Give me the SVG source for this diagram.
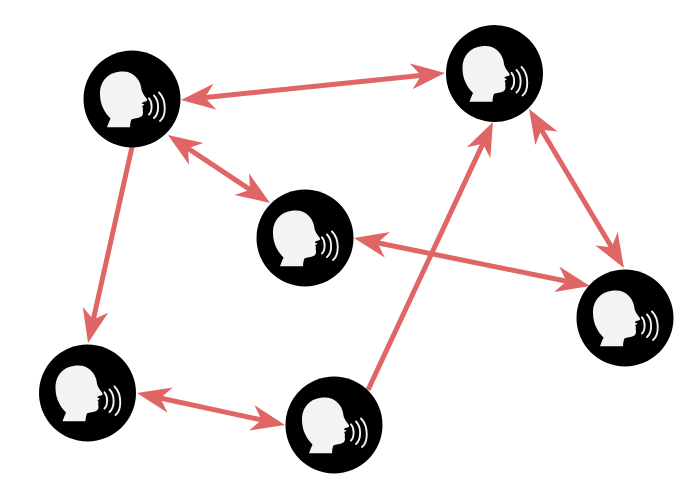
<svg xmlns="http://www.w3.org/2000/svg" xmlns:xlink="http://www.w3.org/1999/xlink" width="696" height="498" viewBox="0 0 696 498">
<style>
.edge{fill:none;stroke:#e06666;stroke-width:5}
.disc{fill:#000}
.head{fill:#f3f3f3}
.wave{fill:none;stroke:#f3f3f3;stroke-width:1.9;stroke-linecap:round}
</style>
<defs>
<marker id="arrow" markerUnits="userSpaceOnUse" markerWidth="36" markerHeight="30" refX="14" refY="15" orient="auto-start-reverse">
<path d="M34 15L0 2L10 15L0 28Z" fill="#e06666"/>
</marker>
<g id="speaker">
<circle class="disc" r="48.5"/>
<path class="head" d="M-25 28.3C-24 25-22.5 22-21.5 19.5C-27 14-32 6-32-5C-32-18-24-27.5-9-27.5C1-27.5 7.5-20 9-12.5C9.5-10 9.5-8.5 10.3-7C11.5-4 14-1.5 15.3 1C14.8 2.5 12.5 2.5 11.3 3L9.5 4.5L12.5 5.5L10 7.5C11.5 9 10.8 10 10.7 11.5C11.5 14 10.8 17 9 17.8C6 19.5 2 19.2-.3 20.3C-1.5 22-1.8 25-2 28.3Z"/>
<path class="wave" d="M17-.7C20.5 3 20.5 12 17 15.5"/>
<path class="wave" d="M22-3.5C27.5 2 27.5 14 22 19"/>
<path class="wave" d="M27-6.5C34.5 1 34.5 17 28 22"/>
</g>
</defs>
<g id="connectors">
<path class="edge" d="M200.9 98L425.1 75" marker-start="url(#arrow)" marker-end="url(#arrow)"/>
<path class="edge" d="M184.6 146.1L253.4 191.9" marker-start="url(#arrow)" marker-end="url(#arrow)"/>
<path class="edge" d="M132 147L92.4 323.5" marker-end="url(#arrow)"/>
<path class="edge" d="M373.6 242L570.4 282" marker-start="url(#arrow)" marker-end="url(#arrow)"/>
<path class="edge" d="M156.5 397.2L265.5 420.8" marker-start="url(#arrow)" marker-end="url(#arrow)"/>
<path class="edge" d="M368 390L484.5 140.1" marker-end="url(#arrow)"/>
<path class="edge" d="M539.3 126.2L613.7 250.8" marker-start="url(#arrow)" marker-end="url(#arrow)"/>
</g>
<g id="node1"><use href="#speaker" x="132" y="99"/></g>
<g id="node2"><use href="#speaker" x="494.5" y="73.5"/></g>
<g id="node3"><use href="#speaker" x="305" y="238"/></g>
<g id="node4"><use href="#speaker" x="625" y="318"/></g>
<g id="node5"><use href="#speaker" x="87.5" y="393"/></g>
<g id="node6"><use href="#speaker" x="334" y="425"/></g>
</svg>
